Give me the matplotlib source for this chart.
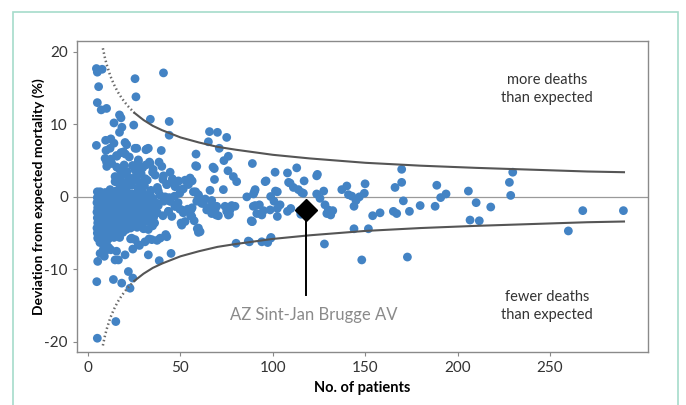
import matplotlib
matplotlib.use("Agg")
import matplotlib.pyplot as plt
from matplotlib.patches import Rectangle

# hospitals: (number of patients, deviation from expected mortality in %)
core_points = [
    (12.8, 4.6), (15.5, 4.1), (19.5, 4.4), (24.0, 4.3), (27.2, 4.9), (33.5, 4.6), (29.5, 4.0),
    (17.3, 3.7), (21.0, 3.5), (25.4, 3.7), (28.7, 3.2), (39.9, 4.2), (35.2, 3.8),
    (14.6, 2.8), (18.5, 3.0), (22.0, 2.7), (26.0, 2.9), (31.0, 2.5), (36.3, 3.0),
    (14.6, 2.1), (17.8, 2.2), (21.0, 1.9), (24.5, 2.2), (28.0, 2.0), (32.0, 2.3), (45.3, 2.1), (40.5, 2.4),
    (11.9, 1.0), (17.3, 1.5), (20.5, 1.3), (23.5, 1.6), (27.0, 1.2), (30.5, 1.5), (37.5, 1.3), (42.6, 1.7), (34.0, 0.9),
    (5.0, 0.7), (6.5, 0.7), (9.2, 0.6), (12.0, 0.5), (15.0, 0.8), (18.0, 0.6), (21.0, 0.7), (24.0, 0.4),
    (27.0, 0.7), (30.0, 0.5), (33.5, 0.3), (38.0, 0.8), (41.7, 0.0),
    (5.0, -0.1), (7.5, 0.1), (10.5, -0.2), (13.5, 0.1), (16.5, -0.1), (19.5, 0.2), (22.5, -0.2), (25.5, 0.0),
    (28.5, -0.3), (31.5, 0.1), (35.0, -0.2), (39.0, 0.2), (44.0, -0.1),
    (4.8, -0.8), (7.0, -0.6), (10.0, -0.9), (13.0, -0.7), (16.0, -0.6), (19.0, -0.8), (22.0, -0.7), (25.0, -0.9),
    (28.0, -0.6), (31.0, -0.8), (34.0, -0.7), (37.5, -0.9), (41.0, -0.6), (44.4, -0.6),
    (5.2, -1.5), (8.0, -1.3), (11.0, -1.4), (14.0, -1.6), (17.0, -1.3), (20.0, -1.5), (23.0, -1.4), (26.0, -1.6),
    (29.0, -1.3), (32.0, -1.5), (35.0, -1.4), (38.0, -1.2), (47.1, -1.3),
    (4.8, -2.1), (7.5, -2.3), (10.5, -2.0), (13.5, -2.2), (16.5, -2.1), (19.5, -2.3), (22.5, -2.0), (25.5, -2.2),
    (28.5, -2.1), (31.5, -2.4), (34.5, -2.0), (37.5, -2.2), (43.5, -2.0), (40.5, -2.6),
    (5.0, -2.9), (8.0, -2.8), (11.0, -3.0), (14.0, -2.7), (17.0, -2.9), (20.0, -2.8), (23.0, -3.0), (26.0, -2.7),
    (29.0, -2.9), (32.0, -3.1), (35.5, -2.8), (45.3, -2.7),
    (5.2, -3.6), (7.5, -3.4), (10.5, -3.6), (13.5, -3.5), (16.5, -3.7), (19.5, -3.4), (22.5, -3.6), (25.5, -3.5),
    (28.5, -3.7), (32.0, -3.4), (36.0, -3.6),
    (4.8, -4.3), (8.0, -4.1), (11.0, -4.3), (14.0, -4.2), (17.0, -4.4), (20.0, -4.1), (23.0, -4.3), (26.5, -4.2),
    (30.0, -4.4), (34.9, -4.0),
    (5.0, -5.0), (7.5, -4.8), (10.5, -5.0), (13.5, -4.9), (16.5, -5.1), (20.7, -4.5),
    (5.2, -5.7), (8.0, -5.5), (11.0, -5.8), (14.0, -5.6), (17.1, -5.6), (23.6, -5.7),
]

upper_points = [
    (4.5, 17.7), (5.0, 17.2), (7.6, 17.6), (5.7, 15.2), (5.0, 13.0), (7.1, 12.0), (10.0, 12.2),
    (25.4, 16.3), (25.9, 13.8), (40.8, 17.1), (4.5, 7.1), (14.0, 10.2), (17.0, 11.3), (17.8, 10.9),
    (33.7, 10.7), (43.9, 10.4), (43.9, 8.5), (24.7, 9.9), (18.3, 9.6), (17.0, 8.9), (9.5, 7.8),
    (12.3, 8.0), (14.0, 7.4), (20.0, 7.5), (9.7, 6.4), (25.4, 6.7), (31.3, 6.5), (39.6, 6.4),
    (11.9, 6.7), (9.2, 5.3), (10.1, 4.2), (15.5, 5.6), (19.1, 6.2), (31.8, 6.6), (27.2, 5.1),
    (10.0, 4.8), (12.3, 5.2), (15.4, 5.7), (17.8, 6.1), (20.2, 5.9), (22.3, 5.5), (31.3, 4.4),
    (33.2, 4.8), (38.4, 4.8), (40.8, 2.9), (44.4, 3.4), (45.6, 2.5), (48.7, 2.1), (34.9, 3.4),
    (27.3, 4.3), (24.2, 4.3), (20.9, 7.2), (26.3, 6.7), (32.6, 6.7),
]

lower_points = [
    (5.2, -8.9), (6.5, -7.8), (9.2, -7.5), (14.6, -8.7), (16.4, -8.7), (15.4, -7.5), (20.0, -8.0),
    (24.2, -7.2), (27.2, -6.6), (30.8, -6.2), (32.6, -8.0), (34.5, -5.9), (39.0, -5.7), (38.5, -8.8),
    (44.9, -7.8), (42.0, -5.2), (42.6, -5.5), (32.6, -4.5), (4.7, -11.7), (13.7, -11.4), (18.2, -11.9),
    (21.8, -10.3), (22.7, -12.6), (24.2, -11.2), (15.0, -17.2), (5.0, -19.5), (6.4, -6.3), (9.9, -6.4),
    (8.3, -7.2), (11.2, -7.0), (12.3, -7.3), (8.8, -8.2), (18.8, -4.9), (23.0, -5.8), (25.4, -5.9),
    (27.8, -6.7), (33.0, -5.8), (37.3, -6.0),
]

middle_points = [
    (65.7, 9.0), (70.0, 8.9), (75.0, 8.2), (65.1, 7.6), (71.0, 6.7), (58.4, 5.9), (75.9, 5.6),
    (73.5, 5.0), (58.8, 4.2), (68.3, 3.9), (75.7, 3.6), (78.6, 2.8), (80.4, 2.1), (68.4, 2.4),
    (88.9, 4.6), (42.6, 1.7), (48.9, 2.2), (52.5, 2.3), (55.2, 2.6), (54.3, 1.7), (47.1, 1.4),
    (50.7, 1.0), (57.0, 0.7), (59.7, 0.3), (66.0, 0.9), (73.2, 1.0), (85.9, 0.0), (90.0, 0.7),
    (95.8, 2.1), (44.4, -0.6), (47.1, -1.3), (43.5, -2.0), (50.7, -1.8), (52.5, -3.4),
    (50.7, -3.9), (55.7, -1.8), (56.1, -2.7), (59.7, -4.3), (59.7, -4.9), (58.8, -0.6), (62.4, -0.9),
    (64.2, -1.8), (66.0, -1.4), (68.7, -1.8), (66.9, -2.3), (70.5, -2.6), (69.6, -1.3), (74.1, -1.3),
    (76.8, -1.8), (75.9, -2.5), (79.5, -1.3), (89.4, -1.3), (91.3, -2.3), (88.9, -3.4),
    (80.1, -6.4), (86.7, -6.1), (94.0, -6.2), (97.2, -6.3), (98.8, -5.7), (53.9, 1.8), (56.3, 2.2),
    (51.5, 1.1), (49.6, 0.5), (46.8, 0.1), (48.7, -0.8), (49.6, -1.7), (51.5, -2.2), (53.9, -1.7),
    (55.5, -2.6), (57.4, -3.3), (59.1, -4.4), (50.3, -3.6), (56.3, -1.5), (63.4, -0.3), (61.5, -0.9),
    (59.8, 0.1), (58.2, 0.7), (77.7, -1.2), (75.0, -2.0), (76.5, -2.4), (67.8, -1.3), (69.3, -2.5),
    (60.6, -4.8), (58.2, 4.3), (67.6, 4.1), (66.9, -0.5),
    (101.2, 3.4), (107.9, 3.3), (112.9, 4.0), (123.7, 2.9), (96.3, 2.2), (116.9, 2.2), (109.3, 1.9),
    (111.1, 1.3), (113.8, 1.0), (116.5, 0.5), (102.4, 0.7), (90.4, 1.0), (89.5, 0.4), (98.8, 0.05),
    (100.6, -0.6), (92.7, -1.1), (90.4, -1.2), (94.9, -1.9), (98.5, -1.8), (94.0, -2.5), (102.4, -1.6),
    (102.4, -2.7), (107.9, -2.0), (109.7, -1.6), (103.9, -1.1), (114.7, -1.9), (88.6, -3.4),
    (123.7, 0.4), (125.5, -0.2), (128.2, -1.1), (130.0, -1.8), (132.4, -1.9), (129.2, -2.3),
    (131.3, -2.5), (127.9, -6.5), (87.3, -6.2), (99.0, -5.6), (124.1, 3.1), (127.5, 0.8), (108.5, 2.0),
    (115.6, 0.6), (101.4, 0.8), (115.1, -2.4), (93.8, -2.4), (88.3, -3.3),
]

large_points = [
    (137.3, 1.0), (140.0, 1.5), (140.9, 0.3), (142.7, 0.1), (145.0, -0.5), (146.8, 0.0), (149.9, 1.8),
    (149.5, 0.5), (143.9, -1.3), (154.0, -2.6), (158.0, -2.2), (143.9, -4.4), (151.7, -4.4),
    (148.1, -8.7), (166.1, 1.3), (165.2, -2.0), (167.0, -2.3), (169.7, 3.8), (169.7, 2.0), (170.6, -0.55),
    (173.9, -2.0), (172.8, -8.3), (179.7, -1.2), (187.8, -1.3), (188.7, 1.6), (190.8, -0.1), (193.7, 0.4),
    (205.8, 0.8), (210.0, -0.8), (217.9, -1.4), (206.7, -3.2), (211.7, -3.3), (228.0, 2.0), (229.8, 3.4),
    (228.7, 0.2), (259.9, -4.7), (267.7, -1.9), (289.7, -1.9),
]

# highlighted hospital
highlight = (118.0, -1.8)
highlight_label = "AZ Sint-Jan Brugge AV"

# control limits (symmetric around zero)
funnel_n = [8, 9, 10, 11, 12, 14, 16, 18, 20, 22, 25, 30, 35, 40, 50, 60, 70, 80, 100, 120,
            150, 180, 210, 240, 270, 290]
funnel_limit = [20.5, 19.3, 18.3, 17.5, 16.7, 15.5, 14.5, 13.7, 13.0, 12.4, 11.6, 10.6, 9.8, 9.2,
                8.2, 7.5, 6.9, 6.5, 5.8, 5.3, 4.7, 4.3, 4.0, 3.75, 3.5, 3.4]
steep_end = 25  # the steep part of the funnel is drawn dotted

x_ticks = [0, 50, 100, 150, 200, 250]
y_ticks = [-20, -10, 0, 10, 20]

plt.rcParams["font.family"] = ["Lato", "DejaVu Sans"]
plt.rcParams["axes.unicode_minus"] = False

fig = plt.figure(figsize=(6.86, 4.05), dpi=100)
ax = fig.add_axes([77 / 686, 1 - 352 / 405, (648 - 77) / 686, (352 - 41) / 405])

fig.add_artist(Rectangle((13 / 686, -0.05), (678 - 13) / 686, 1.05 - 12 / 405,
                         transform=fig.transFigure, fill=False, edgecolor="#a6dccb", lw=1.2))

ax.axhline(0, color="#9a9a9a", lw=0.9, zorder=1)

steep_n = [n for n in funnel_n if n <= steep_end]
steep_l = funnel_limit[:len(steep_n)]
flat_n = funnel_n[len(steep_n) - 1:]
flat_l = funnel_limit[len(steep_n) - 1:]
for sign in (1, -1):
    ax.plot(steep_n, [sign * v for v in steep_l], color="#6a6a6a", lw=1.8,
            linestyle=(0, (0.6, 1.1)), zorder=3)
    ax.plot(flat_n, [sign * v for v in flat_l], color="#555555", lw=1.5, zorder=3)

all_points = core_points + upper_points + lower_points + middle_points + large_points
ax.scatter([p[0] for p in all_points], [p[1] for p in all_points], s=40, color="#4383c4",
           edgecolors="none", zorder=2)

ax.plot([highlight[0], highlight[0]], [highlight[1], -13.6], color="black", lw=1.4, zorder=4)
ax.plot(highlight[0], highlight[1], marker="D", ms=11, color="black", zorder=5)
ax.text(122, -16.3, highlight_label, ha="center", va="center", fontsize=12, color="#8a8a8a")

ax.text(248.5, 14.9, "more deaths\nthan expected", ha="center", va="center", fontsize=10.5,
        color="#333333", linespacing=1.35)
ax.text(248.5, -15.0, "fewer deaths\nthan expected", ha="center", va="center", fontsize=10.5,
        color="#333333", linespacing=1.35)

ax.set_xlim(-6, 303)
ax.set_ylim(-21.4, 21.5)
ax.set_xticks(x_ticks)
ax.set_yticks(y_ticks)
ax.tick_params(labelsize=11, colors="#333333", length=3, color="#888888")
for spine in ax.spines.values():
    spine.set_color("#8a8a8a")
    spine.set_linewidth(1.0)

ax.set_xlabel("No. of patients", fontsize=10.5, fontweight="bold")
ax.set_ylabel("Deviation from expected mortality (%)", fontsize=10, fontweight="bold")
ax.xaxis.set_label_coords(0.5, -0.092)
ax.yaxis.set_label_coords(-0.056, 0.5)

fig.savefig("out.png", dpi=100)
